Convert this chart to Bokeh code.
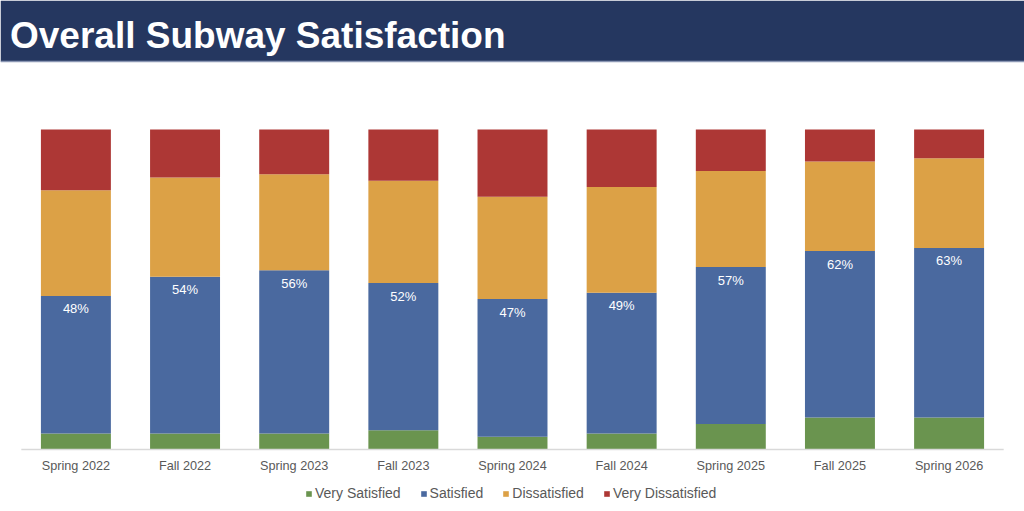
from bokeh.plotting import figure
from bokeh.models import (ColumnDataSource, Range1d, FactorRange, Legend, LegendItem,
                          LabelSet, Label, BoxAnnotation, Span)
from bokeh.core.properties import value
from bokeh.transform import dodge
from bokeh.embed import file_html
from bokeh.resources import INLINE

categories = ["Spring 2022", "Fall 2022", "Spring 2023", "Fall 2023", "Spring 2024",
              "Fall 2024", "Spring 2025", "Fall 2025", "Spring 2026"]
very_satisfied = [5, 5, 5, 6, 4, 5, 8, 10, 10]
satisfied = [43, 49, 51, 46, 43, 44, 49, 52, 53]
dissatisfied = [33, 31, 30, 32, 32, 33, 30, 28, 28]
very_dissatisfied = [19, 15, 14, 16, 21, 18, 13, 10, 9]
series_names = ["Very Satisfied", "Satisfied", "Dissatisfied", "Very Dissatisfied"]
colors = ["#6a944f", "#4a699f", "#dca146", "#ad3735"]
title_text = "Overall Subway Satisfaction"

total_satisfied = [a + b for a, b in zip(very_satisfied, satisfied)]
labels = [f"{v}%" for v in total_satisfied]

source = ColumnDataSource(dict(
    cat=categories, vs=very_satisfied, s=satisfied, d=dissatisfied, vd=very_dissatisfied,
    top_sat=total_satisfied, label=labels, base=[0] * len(categories),
))
axis_source = ColumnDataSource(dict(x0=[categories[0]], x1=[categories[-1]], y=[0]))

FONT = "Liberation Sans"

# layout in pixels (the frame covers the whole canvas)
W, H = 1024, 511
AXIS_Y = 449           # pixel row of the x-axis line (value 0)
BAR_PX = 320           # pixel height of 100 %
TITLE_H = 61           # height of the navy title band
px_per_unit = BAR_PX / 100.0
y_top = AXIS_Y / px_per_unit
y_bottom = -(H - AXIS_Y) / px_per_unit
title_bottom = (AXIS_Y - TITLE_H) / px_per_unit

p = figure(
    x_range=FactorRange(factors=categories, range_padding=0.0424),
    y_range=Range1d(y_bottom, y_top),
    width=W, height=H, frame_width=W, frame_height=H,
    output_backend="svg", toolbar_location=None,
    x_axis_location=None, y_axis_location=None,
    min_border_left=0, min_border_right=0, min_border_top=0, min_border_bottom=0,
)
p.outline_line_color = None
p.grid.visible = False
p.background_fill_color = "#ffffff"
p.border_fill_color = "#ffffff"

renderers = p.vbar_stack(["vs", "s", "d", "vd"], x="cat", width=0.641, color=colors,
                         line_color=None, source=source)

# baseline (axis line) spanning the category band
p.segment(x0=dodge("x0", -0.5, range=p.x_range), y0="y",
          x1=dodge("x1", 0.5, range=p.x_range), y1="y",
          source=axis_source, line_color="#d9d9d9", line_width=1.5)

# category labels under the baseline
cat_labels = LabelSet(x="cat", y="base", text="cat", source=source, y_offset=-16,
                      text_align="center", text_baseline="middle", text_color="#595959",
                      text_font=value(FONT), text_font_size="12.7px")
p.add_layout(cat_labels)

# satisfied totals inside the blue segments
lbl = LabelSet(x="cat", y="top_sat", text="label", source=source, y_offset=-13,
               text_align="center", text_baseline="middle", text_color="#ffffff",
               text_font=value(FONT), text_font_size="13px")
p.add_layout(lbl)

# title band
band = BoxAnnotation(bottom=title_bottom, fill_color="#253760", fill_alpha=1.0,
                     line_color=None)
p.add_layout(band)
p.add_layout(Span(location=title_bottom, dimension="width", line_color="#8a96b3",
                  line_width=1.5))
p.add_layout(Label(x=9.5, y=H - 35, x_units="screen", y_units="screen",
                   text=title_text, text_font=FONT, text_font_style="bold",
                   text_font_size="37px", text_color="#ffffff",
                   text_baseline="alphabetic"))

# legend at the bottom (screen offset from the frame's bottom-left)
legend = Legend(
    items=[LegendItem(label=n, renderers=[r]) for n, r in zip(series_names, renderers)],
    orientation="horizontal", location=(305, 10),
    glyph_width=7, glyph_height=7, label_standoff=3, spacing=19,
    label_text_font=FONT, label_text_font_size="14px", label_text_color="#595959",
    padding=0, margin=0,
    border_line_color=None, background_fill_alpha=0,
)
p.add_layout(legend)

open("out.html", "w").write(file_html(p, INLINE))
